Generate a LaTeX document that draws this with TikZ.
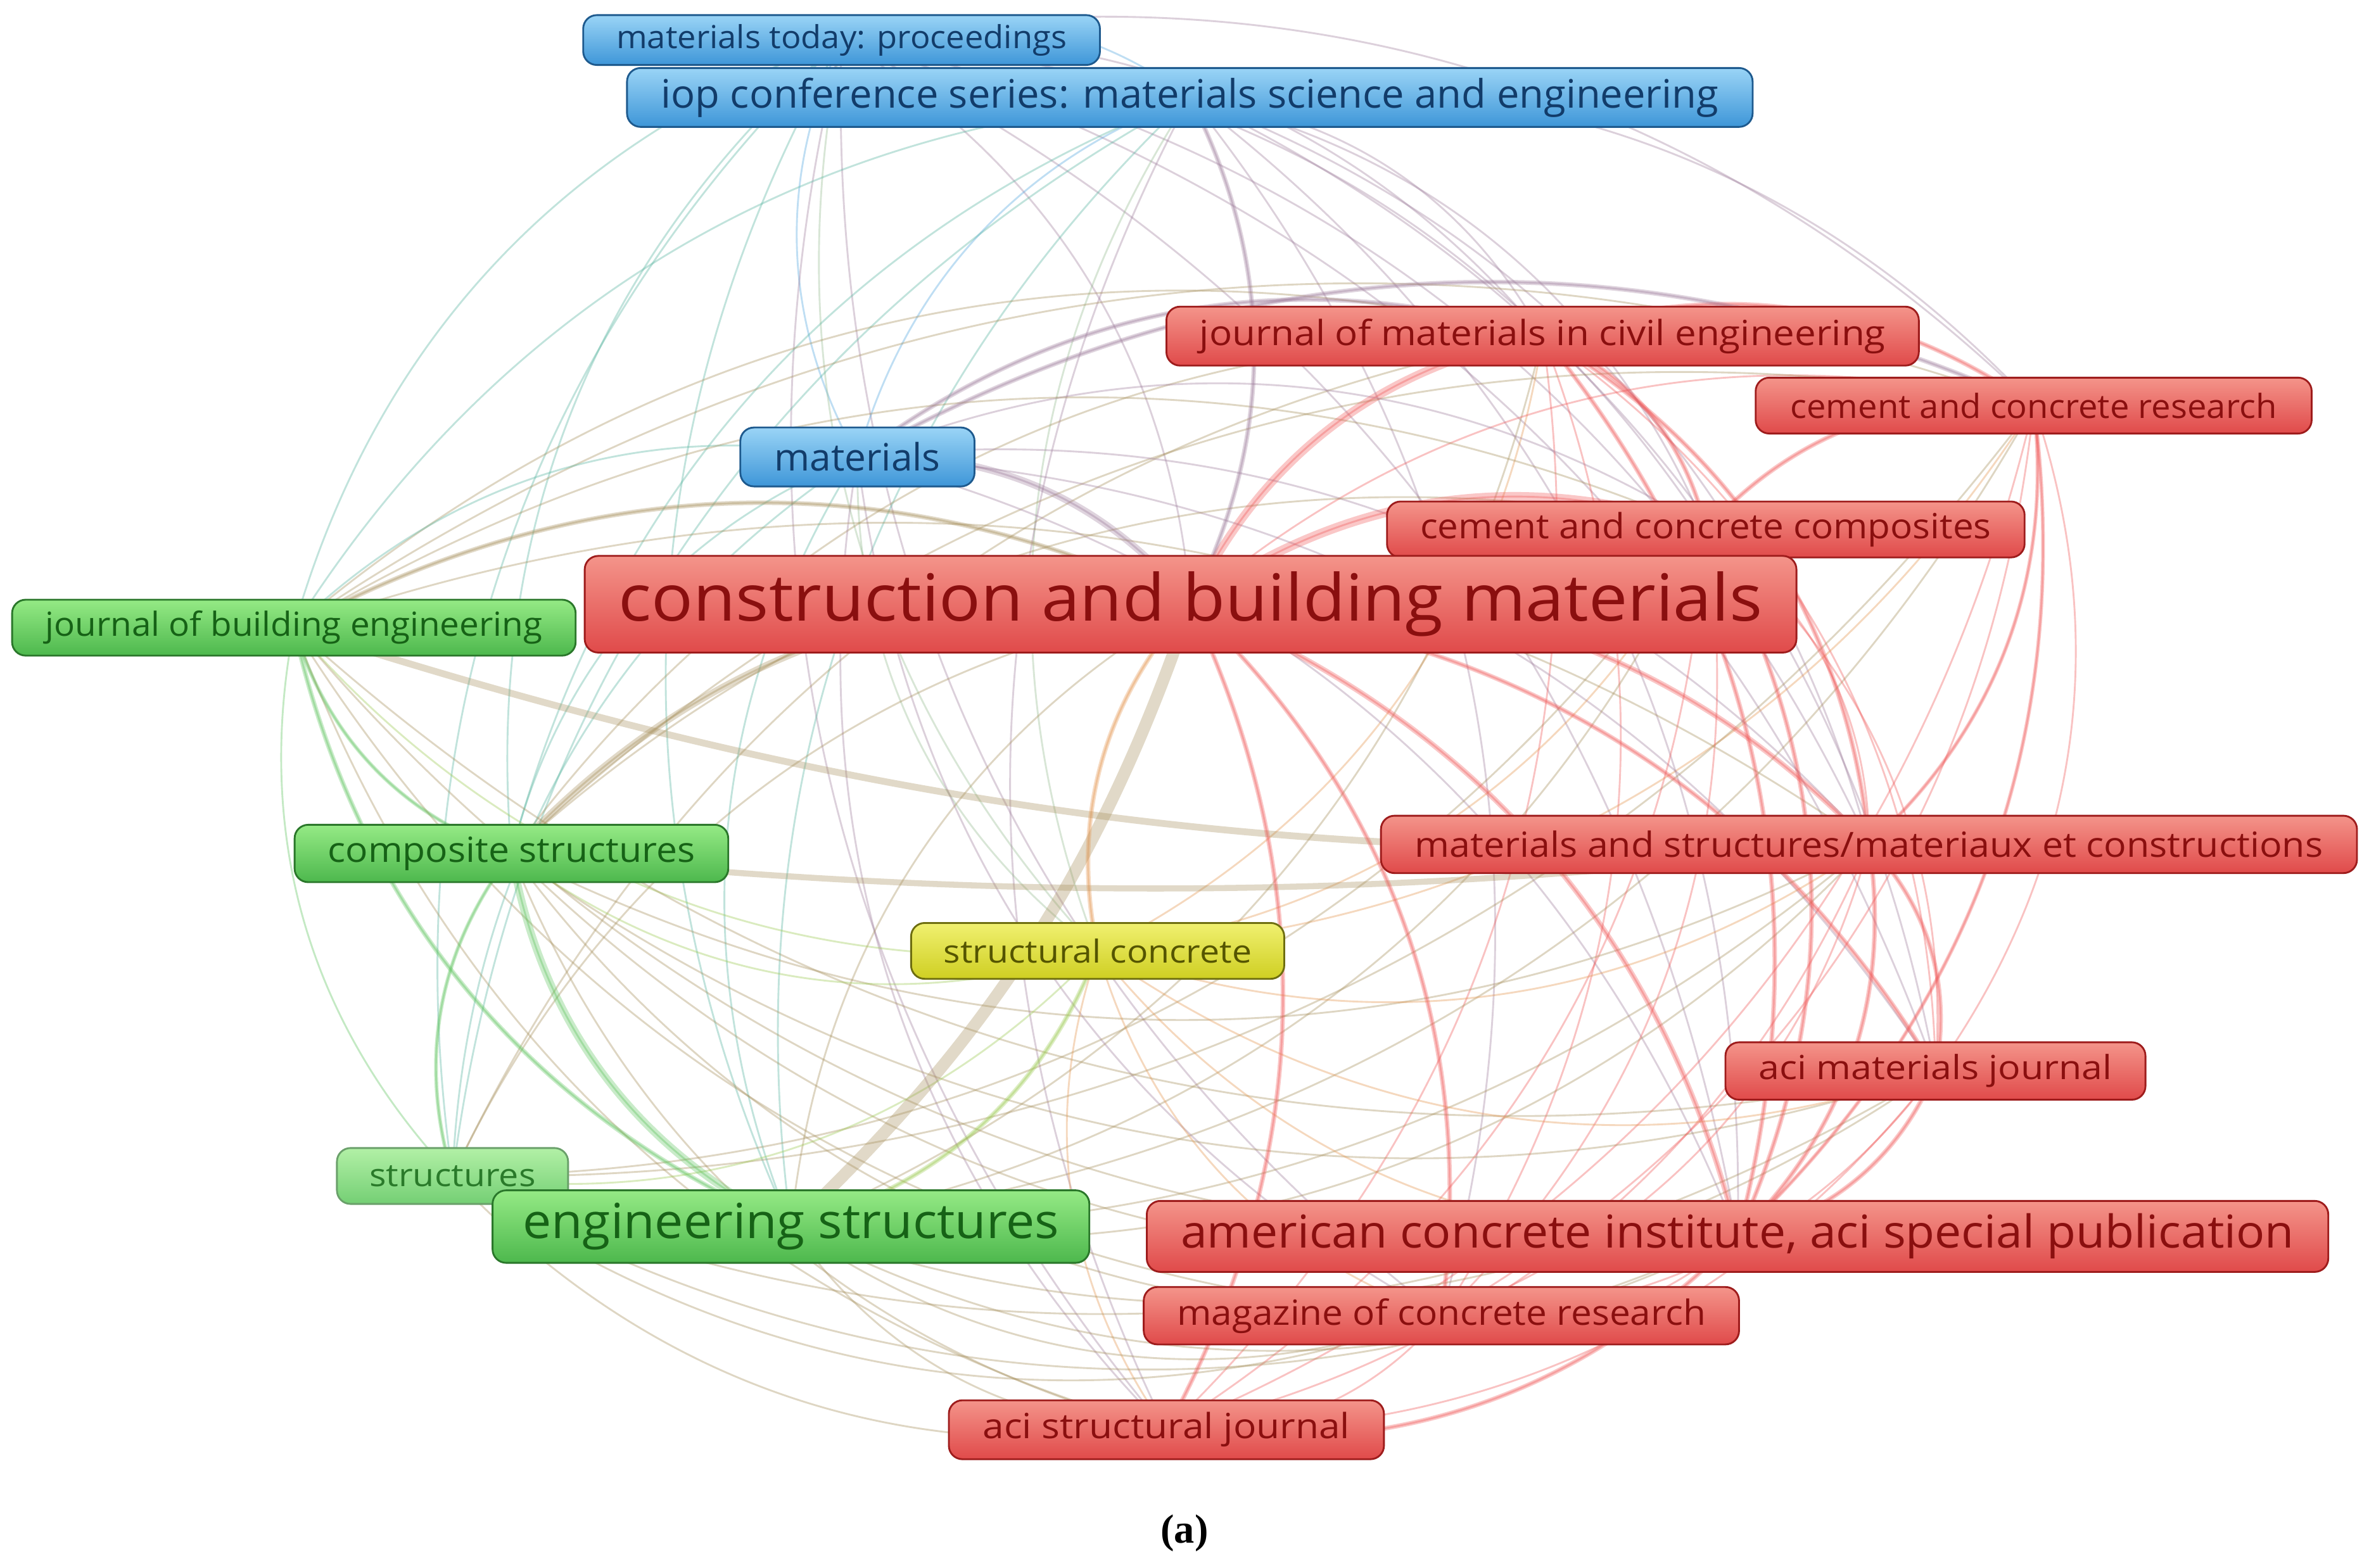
\documentclass[tikz,border=0pt]{standalone}
\usepackage{fontspec}
\setmainfont{Open Sans}
\newfontfamily\capfont{Liberation Serif}
\usetikzlibrary{backgrounds,calc}
\definecolor{redT}{HTML}{F4948A}
\definecolor{redB}{HTML}{E04A4A}
\definecolor{redD}{HTML}{9E1C1C}
\definecolor{redTx}{HTML}{8A0F0F}
\definecolor{bluT}{HTML}{9AD4F6}
\definecolor{bluB}{HTML}{3E96D8}
\definecolor{bluD}{HTML}{1E5A8E}
\definecolor{bluTx}{HTML}{123C6A}
\definecolor{grnT}{HTML}{95EA85}
\definecolor{grnB}{HTML}{4DB84D}
\definecolor{grnD}{HTML}{2A772A}
\definecolor{grnTx}{HTML}{166216}
\definecolor{lgrT}{HTML}{B2F0A6}
\definecolor{lgrB}{HTML}{74CF74}
\definecolor{lgrTx}{HTML}{2A7A2A}
\definecolor{ylwT}{HTML}{F0F070}
\definecolor{ylwB}{HTML}{CFCF22}
\definecolor{ylwD}{HTML}{6E6E10}
\definecolor{ylwTx}{HTML}{555500}
\definecolor{eR}{HTML}{F05858}
\definecolor{eB}{HTML}{4FA4E0}
\definecolor{eG}{HTML}{5CC45C}
\definecolor{eY}{HTML}{D8D040}
\colorlet{ecA}{eB}\colorlet{ecB}{eB}\colorlet{ecC}{eR}\colorlet{ecD}{eR}
\colorlet{ecE}{eB}\colorlet{ecF}{eR}\colorlet{ecG}{eR}\colorlet{ecH}{eG}
\colorlet{ecI}{eG}\colorlet{ecJ}{eR}\colorlet{ecK}{eY}\colorlet{ecL}{eR}
\colorlet{ecM}{eG}\colorlet{ecN}{eG}\colorlet{ecO}{eR}\colorlet{ecP}{eR}
\colorlet{ecQ}{eR}
% node centres / 100 (for choosing the bend side)
\def\xA{5.57}\def\yA{0.265}\def\xB{7.875}\def\yB{0.645}
\def\xC{10.21}\def\yC{2.225}\def\xD{13.46}\def\yD{2.685}
\def\xE{5.675}\def\yE{3.025}\def\xF{11.29}\def\yF{3.505}
\def\xG{7.88}\def\yG{4.0}\def\xH{1.945}\def\yH{4.155}
\def\xI{3.385}\def\yI{5.65}\def\xJ{12.37}\def\yJ{5.59}
\def\xK{7.265}\def\yK{6.295}\def\xL{12.81}\def\yL{7.09}
\def\xM{2.995}\def\yM{7.785}\def\xN{5.235}\def\yN{8.12}
\def\xO{11.5}\def\yO{8.185}\def\xP{9.54}\def\yP{8.71}
\def\xQ{7.72}\def\yQ{9.465}
\newcommand\lbl[3]{\resizebox{#1pt}{\height}{\fontsize{#2}{#2}\selectfont #3}}
% #1,#2 node letters, #3 bend (0 = automatic, bulging away from the map centre), #4 style
\newcommand\arcedge[4]{%
  \pgfmathsetmacro\sgn{(\csname x#2\endcsname-\csname x#1\endcsname)*(5.0-\csname y#1\endcsname)-(\csname y#2\endcsname-\csname y#1\endcsname)*(7.84-\csname x#1\endcsname)}%
  \ifdim #3pt=0pt
    \pgfmathsetmacro\angp{\sgn>0 ? -27 : 27}%
  \else
    \pgfmathsetmacro\angp{#3}%
  \fi
  \pgfmathsetmacro\angm{-\angp}%
  \draw[#4] (n#1.center) .. controls ($(n#1.center)!0.37!\angm:(n#2.center)$) and ($(n#2.center)!0.37!\angp:(n#1.center)$) .. (n#2.center);}
\tikzset{
  vbox/.style={transform shape, rounded corners=0.9pt, inner sep=0pt, line width=0.12pt},
  rbox/.style={vbox, top color=redT, bottom color=redB, draw=redD, text=redTx},
  bbox/.style={vbox, top color=bluT, bottom color=bluB, draw=bluD, text=bluTx},
  gbox/.style={vbox, top color=grnT, bottom color=grnB, draw=grnD, text=grnTx},
  lbox/.style={vbox, top color=lgrT, bottom color=lgrB, draw=grnD!70, text=lgrTx},
  ybox/.style={vbox, top color=ylwT, bottom color=ylwB, draw=ylwD, text=ylwTx},
  thinedge/.style={line width=0.12pt, draw opacity=0.36},
}
\begin{document}
\begin{tikzpicture}[x=1pt,y=-1pt,scale=0.1]
\useasboundingbox (0,0) rectangle (1568,1038);
\node[bbox, minimum width=342, minimum height=33] (nA) at (557,26.5) {\lbl{298}{21}{materials today: proceedings}};
\node[bbox, minimum width=745, minimum height=39] (nB) at (787.5,64.5) {\lbl{700}{26}{iop conference series: materials science and engineering}};
\node[rbox, minimum width=498, minimum height=39] (nC) at (1021,222.5) {\lbl{454}{23}{journal of materials in civil engineering}};
\node[rbox, minimum width=368, minimum height=37] (nD) at (1346,268.5) {\lbl{322}{22}{cement and concrete research}};
\node[bbox, minimum width=155, minimum height=39] (nE) at (567.5,302.5) {\lbl{110}{25}{materials}};
\node[rbox, minimum width=422, minimum height=37] (nF) at (1129,350.5) {\lbl{378}{23}{cement and concrete composites}};
\node[rbox, minimum width=802, minimum height=64] (nG) at (788,400) {\lbl{757}{43}{construction and building materials}};
\node[gbox, minimum width=373, minimum height=37] (nH) at (194.5,415.5) {\lbl{329}{22}{journal of building engineering}};
\node[gbox, minimum width=287, minimum height=38] (nI) at (338.5,565) {\lbl{243}{23}{composite structures}};
\node[rbox, minimum width=646, minimum height=38] (nJ) at (1237,559) {\lbl{601}{23}{materials and structures/materiaux et constructions}};
\node[ybox, minimum width=247, minimum height=37] (nK) at (726.5,629.5) {\lbl{204}{21}{structural concrete}};
\node[rbox, minimum width=278, minimum height=38] (nL) at (1281,709) {\lbl{234}{22}{aci materials journal}};
\node[lbox, minimum width=153, minimum height=37] (nM) at (299.5,778.5) {\lbl{110}{21}{structures}};
\node[gbox, minimum width=395, minimum height=48] (nN) at (523.5,812) {\lbl{355}{32}{engineering structures}};
\node[rbox, minimum width=782, minimum height=47] (nO) at (1150,818.5) {\lbl{737}{30}{american concrete institute, aci special publication}};
\node[rbox, minimum width=394, minimum height=38] (nP) at (954,871) {\lbl{350}{23}{magazine of concrete research}};
\node[rbox, minimum width=288, minimum height=39] (nQ) at (772,946.5) {\lbl{243}{23}{aci structural journal}};
\node[transform shape, text=black] (cap) at (784,1015) {\capfont\bfseries\fontsize{27}{27}\selectfont (a)};
\begin{pgfonlayer}{background}
\fill[white] (0,0) rectangle (1568,1038);
\foreach \i/\ii in {A/1,B/2,C/3,D/4,E/5,F/6,G/7,H/8,I/9,J/10,K/11,L/12,M/13,N/14,O/15,P/16,Q/17}{
  \foreach \j/\jj in {A/1,B/2,C/3,D/4,E/5,F/6,G/7,H/8,I/9,J/10,K/11,L/12,M/13,N/14,O/15,P/16,Q/17}{
    \ifnum\ii<\jj\relax
      \arcedge{\i}{\j}{0}{thinedge, draw=ec\i!50!ec\j}
    \fi
  }
}
\foreach \i/\j/\w/\a in {G/N/0.8/-14, F/G/0.6/0, C/G/0.55/0, E/G/0.45/0, G/I/0.45/0, G/H/0.3/0, H/J/0.45/10, I/J/0.4/6, G/J/0.35/0, G/L/0.3/0, G/O/0.35/0, G/P/0.3/0, G/Q/0.3/0, G/K/0.3/0, B/G/0.3/0, I/N/0.5/0, M/N/0.3/0, H/N/0.3/0, K/N/0.3/0, O/Q/0.3/0, C/D/0.3/0, C/F/0.3/0, J/L/0.3/0, J/O/0.3/0, D/F/0.3/0, H/I/0.25/0, I/M/0.25/0, E/D/0.3/0, E/C/0.3/0, C/O/0.3/0, D/O/0.25/0, F/O/0.3/0, L/O/0.3/0, D/J/0.25/0, C/J/0.3/0}{
  \arcedge{\i}{\j}{\a}{line width=\w pt, draw opacity=0.33, draw=ec\i!50!ec\j}
}
\end{pgfonlayer}
\end{tikzpicture}
\end{document}
